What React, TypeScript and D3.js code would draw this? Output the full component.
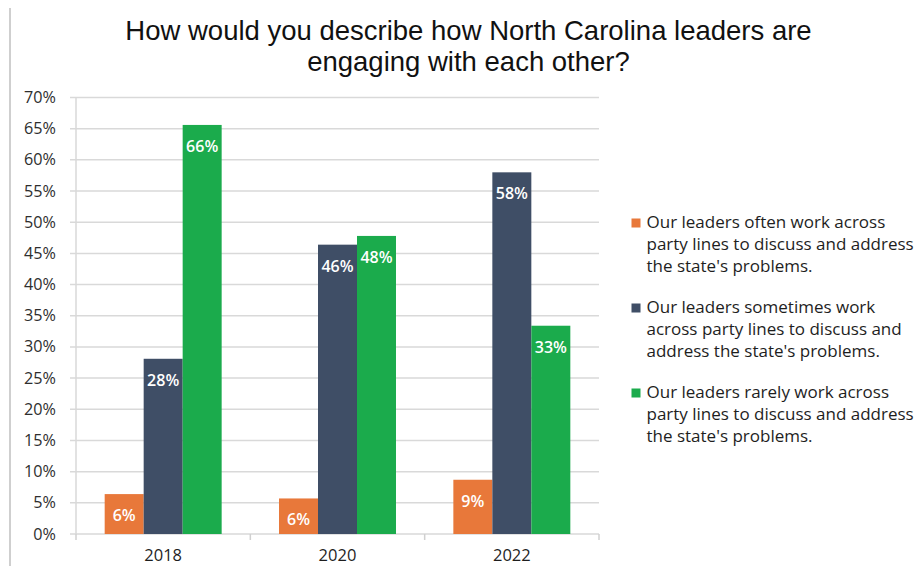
import React from "react";
import * as d3 from "d3";

const years = ["2018", "2020", "2022"];
const seriesKeys = ["often", "sometimes", "rarely"];
const oftenValues = [6.4, 5.7, 8.7];
const sometimesValues = [28.1, 46.4, 58.0];
const rarelyValues = [65.6, 47.8, 33.4];
const yTicks = [0, 5, 10, 15, 20, 25, 30, 35, 40, 45, 50, 55, 60, 65, 70];
const titleLines = [
  "How would you describe how North Carolina leaders are",
  "engaging with each other?",
];
const legendLines = [
  ["Our leaders often work across", "party lines to discuss and address", "the state's problems."],
  ["Our leaders sometimes work", "across party lines to discuss and", "address the state's problems."],
  ["Our leaders rarely work across", "party lines to discuss and address", "the state's problems."],
];
const colors = ["#E8783A", "#3F4E66", "#1BAB4C"];

const W = 918;
const H = 566;
const plotLeft = 76;
const plotRight = 599;
const plotTop = 97.5;
const plotBottom = 534;
const FONT = "'Open Sans', sans-serif";

export default function App() {
  const values = [oftenValues, sometimesValues, rarelyValues];
  const x0 = d3
    .scaleBand<string>()
    .domain(years)
    .range([plotLeft, plotRight])
    .paddingInner(0.329)
    .paddingOuter(0.1645);
  const x1 = d3
    .scaleBand<string>()
    .domain(seriesKeys)
    .range([0, x0.bandwidth()])
    .padding(0);
  const y = d3.scaleLinear().domain([0, 70]).range([plotBottom, plotTop]);
  const step = x0.step();
  const catEdges = [plotLeft, ...years.map((yr) => (x0(yr) as number) + x0.bandwidth() + (step - x0.bandwidth()) / 2)];

  return (
    <svg
      width={W}
      height={H}
      style={{ position: "absolute", left: 0, top: 0, background: "#fff" }}
    >
      <rect x={0} y={0} width={W} height={H} fill="#fff" />
      <line x1={10} x2={10} y1={8} y2={H} stroke="#cfcfcf" strokeWidth={2} />

      {titleLines.map((t, i) => (
        <text
          key={i}
          x={468.5}
          y={40 + i * 31}
          textAnchor="middle"
          fontFamily="'Liberation Sans', Arial, sans-serif"
          fontSize={27.5}
          fill="#111"
        >
          {t}
        </text>
      ))}

      {yTicks.map((t) => (
        <g key={t}>
          <line
            x1={70}
            x2={plotRight}
            y1={y(t)}
            y2={y(t)}
            stroke="#d9d9d9"
            strokeWidth={1.5}
          />
          <text
            x={56}
            y={y(t) + 5.5}
            textAnchor="end"
            fontFamily={FONT}
            fontSize={16.2}
            fill="#2e2e2e"
          >
            {t}%
          </text>
        </g>
      ))}
      <line x1={plotLeft} x2={plotLeft} y1={plotTop} y2={plotBottom} stroke="#d9d9d9" strokeWidth={1.5} />
      {catEdges.map((cx, i) => (
        <line key={i} x1={cx} x2={cx} y1={plotBottom} y2={plotBottom + 6} stroke="#d0d0d0" strokeWidth={1.5} />
      ))}

      {years.map((yr, gi) => (
        <g key={yr} transform={`translate(${x0(yr)},0)`}>
          {seriesKeys.map((k, si) => {
            const v = values[si][gi];
            const bx = x1(k) as number;
            const bw = x1.bandwidth();
            return (
              <g key={k}>
                <rect
                  x={bx}
                  y={y(v)}
                  width={bw}
                  height={plotBottom - y(v)}
                  fill={colors[si]}
                />
                <text
                  x={bx + bw / 2}
                  y={y(v) + 27}
                  textAnchor="middle"
                  fontFamily={FONT}
                  fontWeight={600}
                  fontSize={16}
                  fill="#fff"
                >
                  {Math.round(v)}%
                </text>
              </g>
            );
          })}
          <text
            x={x0.bandwidth() / 2}
            y={561}
            textAnchor="middle"
            fontFamily={FONT}
            fontSize={16.5}
            fill="#1e1e1e"
          >
            {yr}
          </text>
        </g>
      ))}

      {legendLines.map((lines, i) => (
        <g key={i} transform={`translate(0,${222 + i * 85})`}>
          <rect x={631.5} y={-3.5} width={9} height={9} fill={colors[i]} />
          {lines.map((ln, j) => (
            <text
              key={j}
              x={646.5}
              y={j * 22 + 6}
              fontFamily={FONT}
              fontSize={17}
              fill="#1e1e1e"
            >
              {ln}
            </text>
          ))}
        </g>
      ))}
    </svg>
  );
}
